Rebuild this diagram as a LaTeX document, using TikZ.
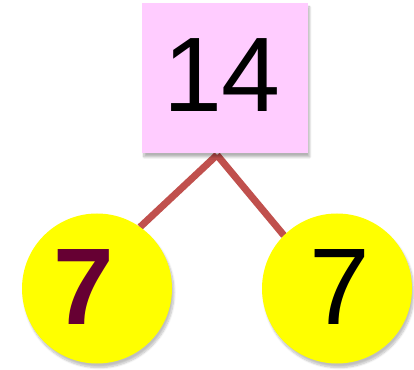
\documentclass[tikz,border=0pt]{standalone}
\usepackage{fontspec}
\setmainfont{Liberation Sans}
\usetikzlibrary{shadows.blur}
\definecolor{boxpink}{RGB}{255,204,255}
\definecolor{linered}{RGB}{192,80,77}
\definecolor{maroon7}{RGB}{102,0,51}
\definecolor{ballyellow}{RGB}{255,255,0}
\tikzset{
  numbox/.style={draw=none,fill=boxpink,minimum width=165.7pt,minimum height=150pt,inner sep=0pt,
    blur shadow={shadow xshift=2pt,shadow yshift=-4pt,shadow blur steps=8,shadow opacity=30}},
  ball/.style={circle,draw=none,fill=ballyellow,minimum size=150pt,inner sep=0pt,
    blur shadow={shadow xshift=2pt,shadow yshift=-4pt,shadow blur steps=8,shadow opacity=25}},
  link/.style={draw=linered,line width=7pt},
  numtext/.style={inner sep=0pt,font=\fontsize{106}{110}\selectfont}
}
\begin{document}
\begin{tikzpicture}[x=1pt,y=1pt]
\useasboundingbox (0,0) rectangle (414,369);
\coordinate (apex) at (217,214);
\coordinate (lp) at (140,141.9);
\coordinate (rp) at (284,133.5);
\draw[link] (apex) -- (lp);
\draw[link] (apex) -- (rp);
\node[ball] (l) at (97,80.5) {};
\node[ball] (r) at (337,80.5) {};
\node[numbox] (b) at (224.8,291) {};
\node[numtext] (t14) at (222,293.5) {14};
\node[numtext,font=\fontsize{109}{110}\selectfont\bfseries,text=maroon7] (t7a) at (84,82) {7};
\node[numtext,font=\fontsize{109}{110}\selectfont] (t7b) at (340,82) {7};
\end{tikzpicture}
\end{document}
